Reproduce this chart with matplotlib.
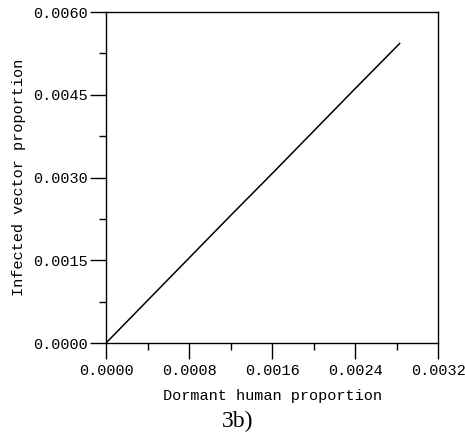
import matplotlib
matplotlib.use("Agg")
import matplotlib.pyplot as plt
from matplotlib.ticker import MultipleLocator, FormatStrFormatter

# values
dormant_human = [0.0, 0.0004, 0.0008, 0.0012, 0.0016, 0.0020, 0.0024, 0.00283]
infected_vector = [0.0, 0.00077, 0.00154, 0.00231, 0.00307, 0.00384, 0.00461, 0.00543]

x_ticks = [0.0, 0.0008, 0.0016, 0.0024, 0.0032]
y_ticks = [0.0, 0.0015, 0.0030, 0.0045, 0.0060]

mono = "Liberation Mono"

fig = plt.figure(figsize=(4.65, 4.36), dpi=100)
ax = fig.add_axes([0.228, 0.2133, 0.714, 0.759])

ax.plot(dormant_human, infected_vector, color="black", lw=1.1)

ax.set_xlim(x_ticks[0], x_ticks[-1])
ax.set_ylim(y_ticks[0], y_ticks[-1])
ax.set_xticks(x_ticks)
ax.set_yticks(y_ticks)
ax.xaxis.set_minor_locator(MultipleLocator(0.0004))
ax.yaxis.set_minor_locator(MultipleLocator(0.00075))
ax.xaxis.set_major_formatter(FormatStrFormatter("%.4f"))
ax.yaxis.set_major_formatter(FormatStrFormatter("%.4f"))

ax.tick_params(which="both", direction="out", top=False, right=False,
               color="black", width=1)
ax.tick_params(which="major", length=11.5, labelsize=11)
ax.tick_params(axis="x", which="major", pad=3.5)
ax.tick_params(axis="y", which="major", pad=1.5)
ax.tick_params(which="minor", length=5)
for lbl in ax.get_xticklabels() + ax.get_yticklabels():
    lbl.set_fontfamily(mono)

for s in ax.spines.values():
    s.set_linewidth(1.0)

ax.set_xlabel("Dormant human proportion", family=mono, fontsize=11, labelpad=8)
ax.set_ylabel("Infected vector proportion", family=mono, fontsize=11, labelpad=5)

fig.text(0.51, 0.033, "3b)", family="Liberation Serif", fontsize=17,
         ha="center", va="center")

fig.savefig("out.png", dpi=100)
